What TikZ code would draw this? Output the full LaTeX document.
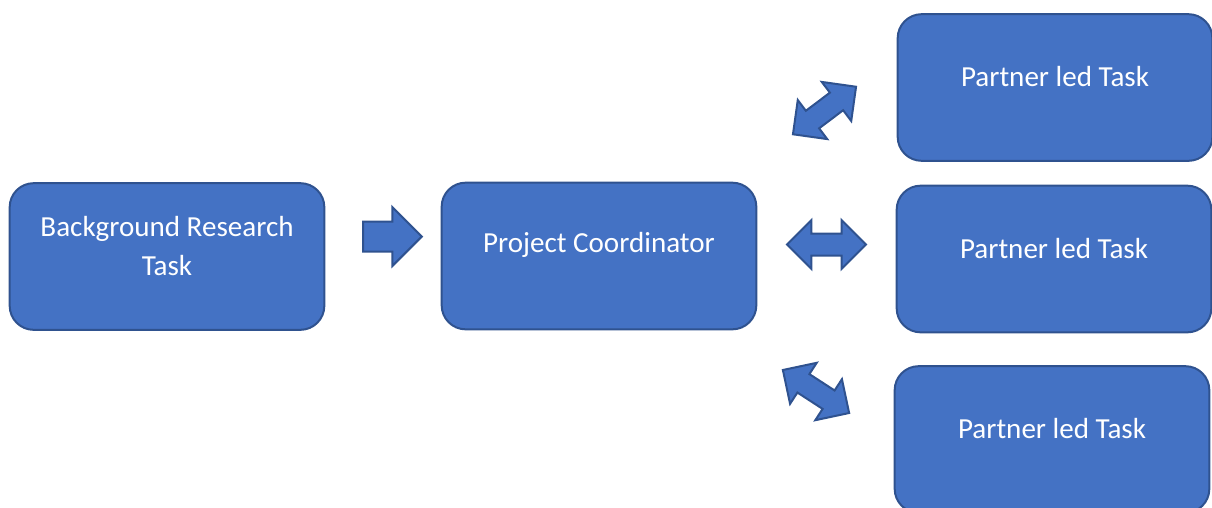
\documentclass[tikz,border=0pt]{standalone}
\usepackage{fontspec}
\setmainfont{Carlito}
\usetikzlibrary{shapes.arrows}
\definecolor{boxblue}{RGB}{68,114,196}
\definecolor{edgeblue}{RGB}{47,82,143}
\tikzset{every picture/.style={line width=0.75pt}}

\begin{document}
\begin{tikzpicture}[x=0.75pt,y=0.75pt,yscale=-1,xscale=1,
    taskbox/.style={draw=edgeblue,fill=boxblue,line width=1.5,rounded corners=18pt,
        minimum width=236pt,minimum height=110pt,inner sep=0pt},
    tasktext/.style={text=white,align=center,inner sep=0.75pt,
        font=\fontsize{21.8}{29}\selectfont},
    onearrow/.style={single arrow,draw=edgeblue,fill=boxblue,line width=1.5,
        inner xsep=0pt,inner ysep=10.5pt,
        minimum height=44pt,single arrow head extend=10.9pt},
    twoarrow/.style={double arrow,draw=edgeblue,fill=boxblue,line width=1.5,
        inner xsep=0pt,inner ysep=7.5pt,
        minimum height=59.25pt,double arrow head extend=10.1pt}]
    \useasboundingbox (0,0) rectangle (1212,507);

    %Rounded Rect (background task)
    \node [taskbox] (bg) at (167,256.5) {};
    %Rounded Rect (coordinator)
    \node [taskbox] (pc) at (599,256) {};
    %Rounded Rect (partner tasks)
    \node [taskbox] (pa) at (1055,87.5) {};
    \node [taskbox] (pb) at (1054,259) {};
    \node [taskbox] (pc3) at (1052,439.5) {};

    % Text Node
    \node [tasktext] (bgtext) at ([yshift=-8pt]bg.center) {Background Research\\Task};
    % Text Node
    \node [tasktext] (pctext) at ([yshift=-8pt]pc.center) {Project Coordinator};
    % Text Node
    \node [tasktext] (patext) at ([yshift=-8pt]pa.center) {Partner led Task};
    % Text Node
    \node [tasktext] (pbtext) at ([yshift=-8pt]pb.center) {Partner led Task};
    % Text Node
    \node [tasktext] (pc3text) at ([yshift=-8pt]pc3.center) {Partner led Task};

    %Right Arrow
    \node [onearrow] (toPC) at (385,236.5) {};
    %Left-Right Arrows
    \node [twoarrow,rotate=37] (upLink) at (824.5,110.5) {};
    \node [twoarrow] (midLink) at (826.5,244.5) {};
    \node [twoarrow,rotate=-33] (downLink) at (816,391.5) {};

\end{tikzpicture}
\end{document}
